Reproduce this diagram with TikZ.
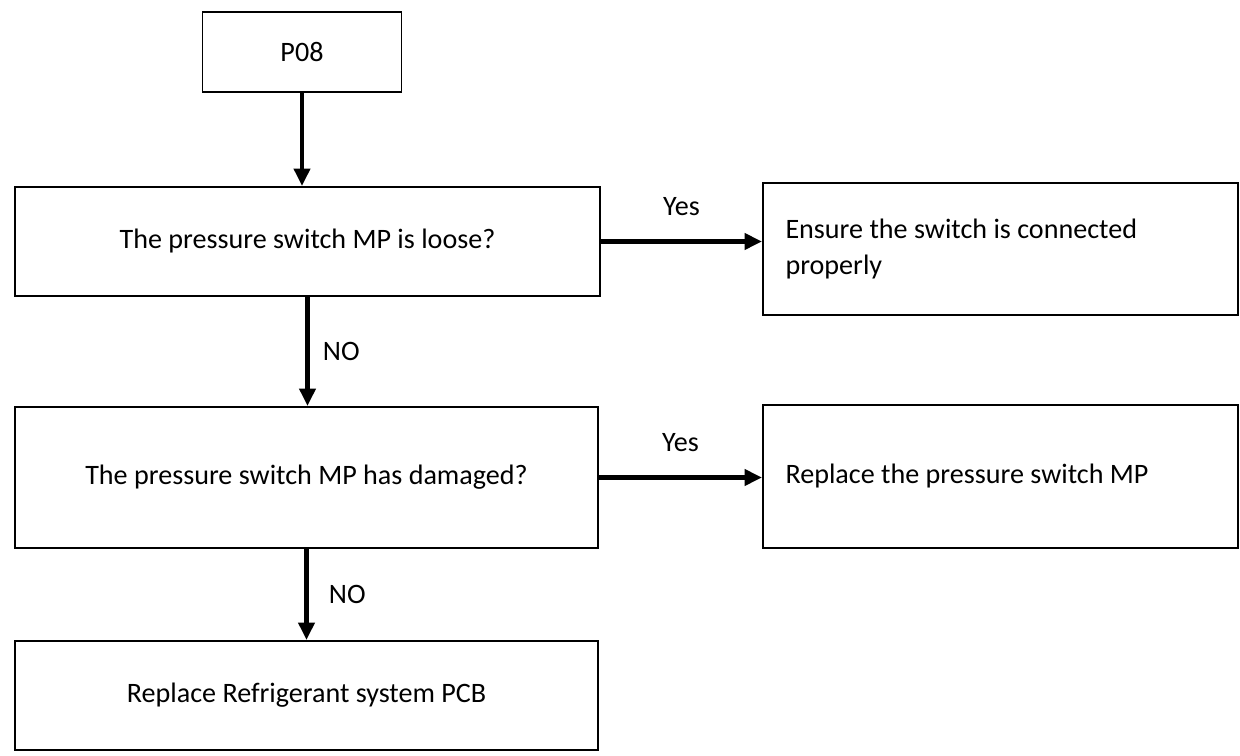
\documentclass[tikz,border=0pt]{standalone}
\usepackage{fontspec}
\setmainfont{Carlito}
\usetikzlibrary{arrows.meta}
\begin{document}
\begin{tikzpicture}[x=0.02cm, y=-0.02cm, font=\fontsize{16}{20}\selectfont,
	box/.style={draw, line width=1pt, inner sep=0pt},
	arrow/.style={line width=2.8pt, -{Triangle[length=10pt, width=9pt]}}]
	\useasboundingbox (0,0) rectangle (1240,756);
	%boxes
	\node[box, minimum width=199*0.02cm, minimum height=80*0.02cm] (p08) at (302,52) {P08};
	\node[box, minimum width=585*0.02cm, minimum height=109*0.02cm] (loose) at (307.5,241.5) {The pressure switch MP is loose?};
	\node[box, minimum width=475*0.02cm, minimum height=132*0.02cm, text width=430*0.02cm, align=flush left] (connect) at (1000.5,249) {Ensure the switch is connected\\properly};
	\node[box, minimum width=583*0.02cm, minimum height=141*0.02cm] (damaged) at (306.5,477.5) {The pressure switch MP has damaged?};
	\node[box, minimum width=475*0.02cm, minimum height=143*0.02cm, text width=430*0.02cm, align=flush left] (replace) at (1000.5,476.5) {Replace the pressure switch MP};
	\node[box, minimum width=583*0.02cm, minimum height=109*0.02cm] (pcb) at (306.5,695.5) {Replace Refrigerant system PCB};
	%arrows
	\draw[arrow] (p08.south) -- (p08.south |- loose.north);
	\draw[arrow] (loose.south) -- node[right=4pt] {NO} (loose.south |- damaged.north);
	\draw[arrow] (damaged.south) -- node[right=8pt] {NO} (damaged.south |- pcb.north);
	\draw[arrow] (loose.east) -- node[above=10pt] {Yes} (loose.east -| connect.west);
	\draw[arrow] (damaged.east) -- node[above=10pt] {Yes} (damaged.east -| replace.west);
\end{tikzpicture}
\end{document}
